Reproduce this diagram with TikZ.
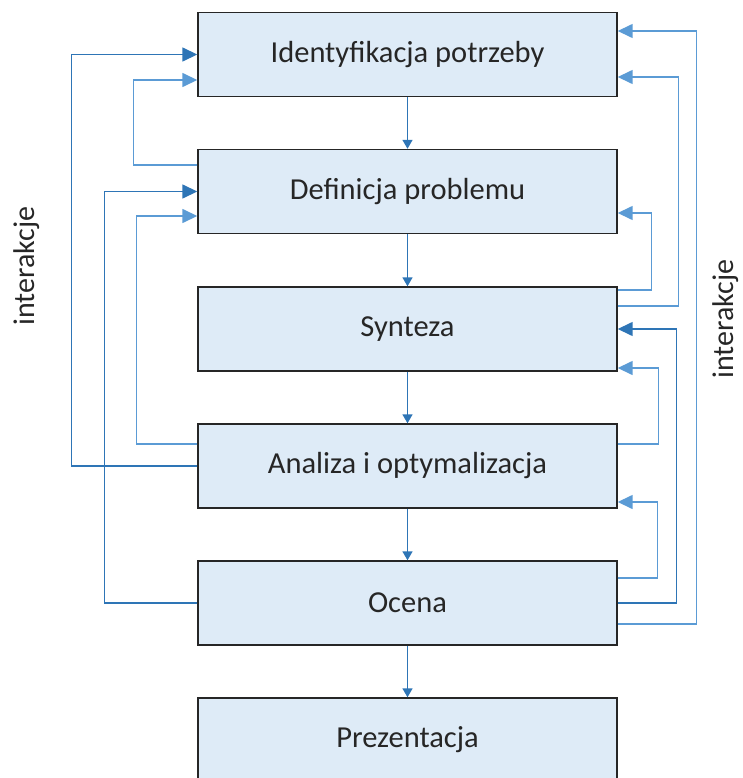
\documentclass[tikz,border=0pt]{standalone}
\usepackage{fontspec}
\setmainfont{Carlito}
\usetikzlibrary{arrows.meta}
\definecolor{boxfill}{RGB}{222,235,247}
\definecolor{darkline}{RGB}{46,117,182}
\definecolor{lightline}{RGB}{91,155,213}
\begin{document}
\begin{tikzpicture}[x=1pt,y=1pt,%
% common options for the stages:
stage/.style = {draw=black!85, fill=boxfill, line width=1.4pt, align=center,
            minimum width=419pt, minimum height=84pt, inner sep=0,
            text=black!85, font=\fontsize{30.5}{36}\selectfont},
% common options for the feedback lines:
fbdark/.style = {draw=darkline, line width=1.5pt, -{Triangle[length=15pt,width=14pt]}},
fblight/.style = {draw=lightline, line width=1.5pt, -{Triangle[length=15pt,width=14pt]}},
% downward flow:
flow/.style = {draw=darkline, line width=1.5pt, -{Triangle[length=9pt,width=10pt]}},
side/.style = {rotate=90, inner sep=0, text=black!85, font=\fontsize{30}{36}\selectfont}]
\useasboundingbox (0,0) rectangle (743,-778);
\node[stage] (id)  at (407.5,-54.5) {Identyfikacja potrzeby};
\node[stage] (def) at (407.5,-191.5) {Definicja problemu};
\node[stage] (syn) at (407.5,-329) {Synteza};
\node[stage] (ana) at (407.5,-466) {Analiza i optymalizacja};
\node[stage] (oce) at (407.5,-603) {Ocena};
\node[stage] (pre) at (407.5,-740) {Prezentacja};
\node[side] (intL) at (27,-266) {interakcje};
\node[side] (intR) at (726,-319) {interakcje};
\draw[flow] (id) -- (def);
\draw[flow] (def) -- (syn);
\draw[flow] (syn) -- (ana);
\draw[flow] (ana) -- (oce);
\draw[flow] (oce) -- (pre);
% left side
\draw[fbdark] (ana.west) -- ++(-126,0) |- (id.west);
\draw[fblight] ([yshift=26.5]def.west) -- ++(-64,0) |- ([yshift=-25.5]id.west);
\draw[fbdark] (oce.west) -- ++(-93,0) |- (def.west);
\draw[fblight] ([yshift=22]ana.west) -- ++(-61,0) |- ([yshift=-24.5]def.west);
% right side
\draw[fblight] ([yshift=-21]oce.east) -- ++(79,0) |- ([yshift=23.5]id.east);
\draw[fblight] ([yshift=23]syn.east) -- ++(61,0) |- ([yshift=-22.5]id.east);
\draw[fblight] ([yshift=39]syn.east) -- ++(34,0) |- ([yshift=-21.5]def.east);
\draw[fbdark] (oce.east) -- ++(59,0) |- (syn.east);
\draw[fblight] ([yshift=22]ana.east) -- ++(41,0) |- ([yshift=-39]syn.east);
\draw[fblight] ([yshift=25]oce.east) -- ++(40,0) |- ([yshift=-36]ana.east);
\end{tikzpicture}
\end{document}
